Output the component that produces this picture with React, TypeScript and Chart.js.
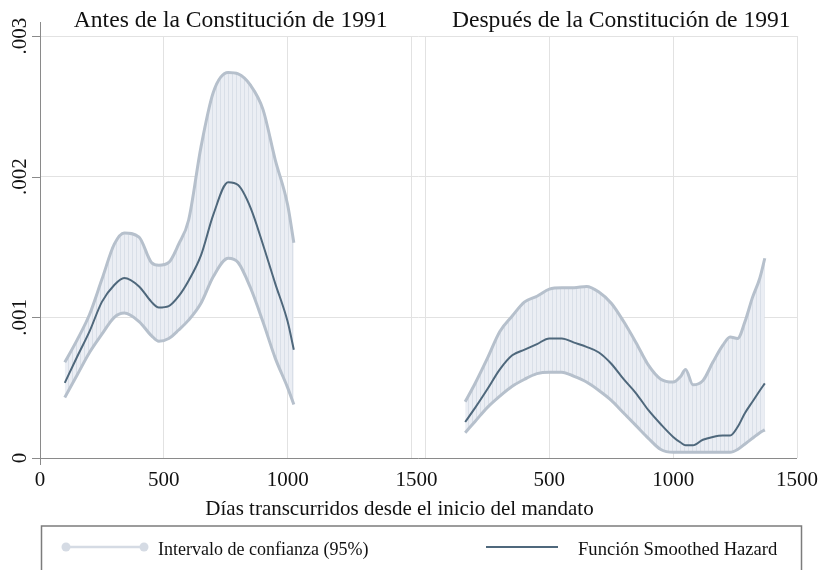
import React, { useEffect, useRef } from "react";
import { Chart, registerables } from "chart.js";

Chart.register(...registerables);

// ---- Data (days since start of mandate, hazard values) ----
const leftTitle = "Antes de la Constitución de 1991";
const rightTitle = "Después de la Constitución de 1991";
const xAxisTitle = "Días transcurridos desde el inicio del mandato";
const legendCI = "Intervalo de confianza (95%)";
const legendHazard = "Función Smoothed Hazard";

const xTickValues = [0, 500, 1000, 1500];
const yTickValues = [0, 0.001, 0.002, 0.003];
const yTickLabels = ["0", ".001", ".002", ".003"];

const leftDays = [100, 150, 200, 250, 300, 340, 400, 450, 480, 520, 560, 600, 650, 700, 760, 800, 850, 900, 950, 1000, 1025];
const leftHazard = [0.000534, 0.00072, 0.0009, 0.00111, 0.00123, 0.00128, 0.00122, 0.00111, 0.00107, 0.00108, 0.00115, 0.00126, 0.00144, 0.00173, 0.00196, 0.00194, 0.00178, 0.00152, 0.00124, 0.00097, 0.00077];
const leftUpper = [0.00068, 0.00084, 0.00102, 0.00127, 0.00152, 0.0016, 0.00157, 0.00139, 0.00137, 0.00139, 0.00152, 0.00169, 0.00221, 0.0026, 0.00274, 0.00273, 0.00265, 0.00248, 0.00212, 0.0018, 0.00153];
const leftLower = [0.00043, 0.00059, 0.00075, 0.00088, 0.001, 0.00103, 0.00097, 0.00087, 0.00083, 0.00085, 0.00091, 0.00098, 0.0011, 0.00129, 0.00142, 0.00139, 0.00121, 0.00097, 0.00071, 0.0005, 0.00038];

const rightDays = [160, 200, 250, 300, 350, 400, 450, 500, 550, 600, 650, 700, 750, 800, 850, 900, 950, 1000, 1030, 1050, 1080, 1120, 1160, 1200, 1230, 1260, 1290, 1320, 1350, 1370];
const rightHazard = [0.000256, 0.000356, 0.00049, 0.00063, 0.00073, 0.00077, 0.00081, 0.00085, 0.00085, 0.00082, 0.00079, 0.00075, 0.00067, 0.00056, 0.00046, 0.00034, 0.00024, 0.00015, 0.00011, 0.00009, 0.00009, 0.00013, 0.00015, 0.00016, 0.00016, 0.00022, 0.00032, 0.0004, 0.00048, 0.00053];
const rightUpper = [0.0004, 0.00053, 0.00071, 0.0009, 0.00101, 0.00111, 0.00115, 0.0012, 0.00121, 0.00121, 0.00122, 0.00118, 0.0011, 0.00097, 0.00082, 0.00066, 0.00056, 0.00054, 0.00058, 0.00063, 0.00052, 0.00055, 0.00068, 0.0008, 0.00086, 0.00085, 0.00097, 0.00114, 0.00128, 0.00142];
const rightLower = [0.00018, 0.00026, 0.00036, 0.00044, 0.00051, 0.00056, 0.0006, 0.00061, 0.00061, 0.00058, 0.00054, 0.00048, 0.00041, 0.00032, 0.00023, 0.00014, 0.00006, 0.00004, 0.00004, 0.00004, 0.00004, 0.00004, 0.00004, 0.00004, 0.00004, 0.00006, 0.0001, 0.00014, 0.00018, 0.0002];

// layout constants
const PANEL_SPAN = 1500;
const RIGHT_OFFSET = 1557; // where the right panel's day 0 sits on the shared scale
const FONT = "'Liberation Serif', 'DejaVu Serif', serif";
const HAZARD_COLOR = "#4f687c";
const CI_EDGE = "#b6c0cc";
const CI_LEGEND = "#d5dbe4";
const GRID = "#e2e2e2";
const AXIS = "#8a8a8a";

const pts = (days: number[], vals: number[], off: number) =>
  days.map((d, i) => ({ x: d + off, y: vals[i] }));

export default function App() {
  const ref = useRef<HTMLCanvasElement | null>(null);

  useEffect(() => {
    const canvas = ref.current;
    if (!canvas) return;

    const pc = document.createElement("canvas");
    pc.width = 4;
    pc.height = 4;
    const pctx = pc.getContext("2d")!;
    pctx.fillStyle = "#ebeef4";
    pctx.fillRect(0, 0, 4, 4);
    pctx.fillStyle = "#d9dfe8";
    pctx.fillRect(0, 0, 1, 4);
    const pattern = canvas.getContext("2d")!.createPattern(pc, "repeat")!;

    const band = (data: any[], fill: any) => ({
      data,
      order: 1,
      borderColor: CI_EDGE,
      borderWidth: 3,
      backgroundColor: pattern,
      fill,
      pointRadius: 0,
      cubicInterpolationMode: "monotone" as const,
    });
    const hz = (data: any[]) => ({
      data,
      order: 0,
      borderColor: HAZARD_COLOR,
      borderWidth: 2,
      fill: false,
      pointRadius: 0,
      cubicInterpolationMode: "monotone" as const,
    });

    const decor = {
      id: "decor",
      afterDraw(chart: any) {
        const { ctx, chartArea } = chart;
        const xs = chart.scales.x;
        const ys = chart.scales.y;
        const { left, right, top, bottom } = chartArea;
        ctx.save();
        // axes
        ctx.strokeStyle = AXIS;
        ctx.lineWidth = 1;
        ctx.beginPath();
        ctx.moveTo(left, bottom + 0.5);
        ctx.lineTo(right, bottom + 0.5);
        ctx.moveTo(left + 0.5, top - 14);
        ctx.lineTo(left + 0.5, bottom + 7);
        yTickValues.forEach((v) => {
          const y = Math.round(ys.getPixelForValue(v)) + 0.5;
          ctx.moveTo(left - 8, y);
          ctx.lineTo(left, y);
        });
        ctx.stroke();

        // y labels (rotated)
        ctx.fillStyle = "#111";
        ctx.font = `21px ${FONT}`;
        yTickValues.forEach((v, i) => {
          const y = ys.getPixelForValue(v);
          ctx.save();
          ctx.translate(left - 14, y);
          ctx.rotate(-Math.PI / 2);
          ctx.textAlign = "center";
          ctx.textBaseline = "alphabetic";
          ctx.fillText(yTickLabels[i], 0, 0);
          ctx.restore();
        });

        // x labels
        ctx.textAlign = "center";
        ctx.textBaseline = "alphabetic";
        const labelY = bottom + 28;
        xTickValues.forEach((v) => {
          if (v === PANEL_SPAN) return;
          if (v !== 0) ctx.fillText(String(v), xs.getPixelForValue(v + RIGHT_OFFSET), labelY);
          ctx.fillText(String(v), xs.getPixelForValue(v), labelY);
        });
        const mid = (xs.getPixelForValue(PANEL_SPAN) + xs.getPixelForValue(RIGHT_OFFSET)) / 2;
        ctx.fillText(String(PANEL_SPAN), mid - 2, labelY);
        ctx.fillText(String(PANEL_SPAN), xs.getPixelForValue(PANEL_SPAN + RIGHT_OFFSET), labelY);

        // titles
        ctx.font = `23.6px ${FONT}`;
        const lc = (xs.getPixelForValue(0) + xs.getPixelForValue(PANEL_SPAN)) / 2;
        const rc = (xs.getPixelForValue(RIGHT_OFFSET) + xs.getPixelForValue(RIGHT_OFFSET + PANEL_SPAN)) / 2;
        ctx.fillText(leftTitle, lc + 5, top - 9);
        ctx.fillText(rightTitle, rc + 10, top - 9);

        // x axis title
        ctx.font = `21px ${FONT}`;
        ctx.fillText(xAxisTitle, (left + right) / 2 - 19, bottom + 57);

        // legend box
        ctx.strokeStyle = "#7c7c7c";
        ctx.lineWidth = 1.5;
        ctx.strokeRect(41.5, bottom + 68, 760, 60);
        const ly = bottom + 89;
        // CI legend
        ctx.strokeStyle = CI_LEGEND;
        ctx.lineWidth = 2.5;
        ctx.beginPath();
        ctx.moveTo(66, ly);
        ctx.lineTo(144, ly);
        ctx.stroke();
        ctx.fillStyle = CI_LEGEND;
        [66, 144].forEach((cx) => {
          ctx.beginPath();
          ctx.arc(cx, ly, 4.5, 0, Math.PI * 2);
          ctx.fill();
        });
        // hazard legend
        ctx.strokeStyle = HAZARD_COLOR;
        ctx.lineWidth = 2;
        ctx.beginPath();
        ctx.moveTo(486, ly);
        ctx.lineTo(558, ly);
        ctx.stroke();
        ctx.fillStyle = "#111";
        ctx.textAlign = "left";
        ctx.textBaseline = "alphabetic";
        ctx.font = `18px ${FONT}`;
        ctx.fillText(legendCI, 158, ly + 8);
        ctx.font = `18.6px ${FONT}`;
        ctx.fillText(legendHazard, 578, ly + 8);
        ctx.restore();
      },
    };

    const chart = new Chart(canvas, {
      type: "line",
      data: {
        datasets: [
          band(pts(leftDays, leftUpper, 0), "+1"),
          band(pts(leftDays, leftLower, 0), false),
          hz(pts(leftDays, leftHazard, 0)),
          band(pts(rightDays, rightUpper, RIGHT_OFFSET), "+1"),
          band(pts(rightDays, rightLower, RIGHT_OFFSET), false),
          hz(pts(rightDays, rightHazard, RIGHT_OFFSET)),
        ] as any,
      },
      options: {
        responsive: false,
        animation: false,
        devicePixelRatio: 1,
        layout: { padding: { left: 40, right: 22, top: 36, bottom: 112 } },
        plugins: {
          legend: { display: false },
          tooltip: { enabled: false },
          filler: { drawTime: "beforeDatasetsDraw" },
        } as any,
        scales: {
          x: {
            type: "linear",
            min: 0,
            max: RIGHT_OFFSET + PANEL_SPAN,
            afterBuildTicks: (s: any) => {
              s.ticks = [
                ...xTickValues.map((v) => ({ value: v })),
                ...xTickValues.map((v) => ({ value: v + RIGHT_OFFSET })),
              ];
            },
            afterFit: (s: any) => {
              s.height = 0;
            },
            ticks: { display: false },
            grid: { color: GRID, drawTicks: false, lineWidth: 1 },
            border: { display: false },
          },
          y: {
            type: "linear",
            min: 0,
            max: 0.003,
            afterBuildTicks: (s: any) => {
              s.ticks = yTickValues.map((v) => ({ value: v }));
            },
            afterFit: (s: any) => {
              s.width = 0;
            },
            ticks: { display: false },
            grid: { color: GRID, drawTicks: false, lineWidth: 1 },
            border: { display: false },
          },
        },
      },
      plugins: [decor],
    });
    return () => chart.destroy();
  }, []);

  return (
    <div style={{ position: "absolute", left: 0, top: 0, width: 819, height: 570, background: "#fff" }}>
      <canvas ref={ref} width={819} height={570} />
    </div>
  );
}
